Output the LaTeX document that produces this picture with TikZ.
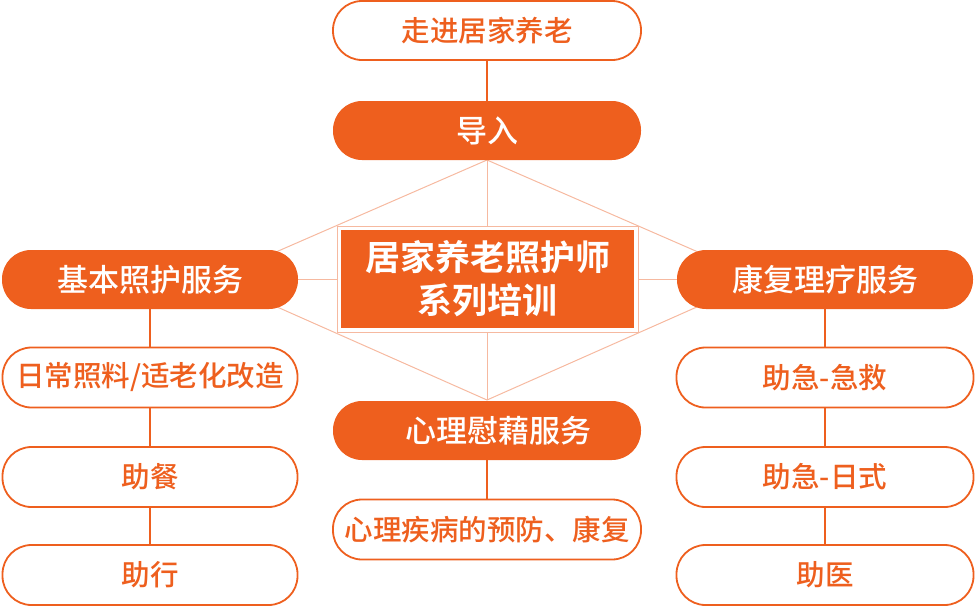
\documentclass[tikz,border=0pt]{standalone}
\usepackage{fontspec}
\IfFontExistsTF{Noto Sans CJK SC Medium}
  {\newfontfamily\cjk{Noto Sans CJK SC Medium}[BoldFont={Noto Sans CJK SC Bold}]}
  {\newfontfamily\cjk{Noto Sans CJK SC Bold}[BoldFont={Noto Sans CJK SC Bold}]}
\definecolor{org}{HTML}{EE5F1E}
\definecolor{lite}{HTML}{F6B9A0}
\begin{document}
\begin{tikzpicture}[x=1pt,y=-1pt,
  pill/.style={rectangle,rounded corners=29pt,minimum width=308pt,minimum height=59pt,inner sep=0pt},
  filledpill/.style={pill,fill=org,text=white,font=\cjk\fontsize{31}{34}\selectfont},
  outpill/.style={pill,draw=org,line width=1.8pt,fill=white,text=org,font=\cjk\fontsize{28.5}{32}\selectfont},
  link/.style={draw=org,line width=1.8pt},
  thin/.style={draw=lite,line width=1pt}]
\useasboundingbox (0,0) rectangle (975,606);
% light background lines
\coordinate (dT) at (487,160);
\coordinate (dB) at (487,400);
\coordinate (dL) at (214,279);
\coordinate (dR) at (760,279);
\draw[thin] (dT) -- (dL) -- (dB) -- (dR) -- cycle;
\draw[thin] (dL) -- (dR);
\draw[thin] (dT) -- (dB);
% nodes
\node[outpill] (top) at (487,30.5) {走进居家养老};
\node[filledpill] (intro) at (487,130.5) {导入};
\node[draw=lite,line width=1pt,fill=white,minimum width=301pt,minimum height=106pt,inner sep=0pt] (frame) at (487.5,279) {};
\node[fill=org,text=white,minimum width=293pt,minimum height=98pt,inner sep=0pt,align=center,font=\cjk\bfseries\fontsize{35}{43}\selectfont] (center) at (487.5,279) {居家养老照护师\\系列培训};
\node[filledpill,minimum width=296pt] (left) at (150,279.5) {基本照护服务};
\node[outpill,minimum width=295pt,minimum height=60pt] (L1) at (150,377.5) {日常照料/适老化改造};
\node[outpill,minimum width=295pt,minimum height=60pt] (L2) at (150,477) {助餐};
\node[outpill,minimum width=295pt,minimum height=60pt] (L3) at (150,575) {助行};
\node[filledpill,minimum width=296pt] (right) at (825,279.5) {康复理疗服务};
\node[outpill,minimum width=297pt,minimum height=60pt] (R1) at (825,377.5) {助急-急救};
\node[outpill,minimum width=297pt,minimum height=60pt] (R2) at (825,477) {助急-日式};
\node[outpill,minimum width=297pt,minimum height=60pt] (R3) at (825,575) {助医};
\node[filledpill] (mid) at (487,430.5) {\hspace*{22pt}心理慰藉服务};
\node[outpill,minimum height=60pt] (mid2) at (487,529.5) {心理疾病的预防、康复};
% connectors
\draw[link,line width=1.4pt] (top) -- (intro);
\draw[link] (left) -- (L1);
\draw[link] (L1) -- (L2);
\draw[link] (L2) -- (L3);
\draw[link] (right) -- (R1);
\draw[link] (R1) -- (R2);
\draw[link] (R2) -- (R3);
\draw[link] (mid) -- (mid2);
\end{tikzpicture}
\end{document}
